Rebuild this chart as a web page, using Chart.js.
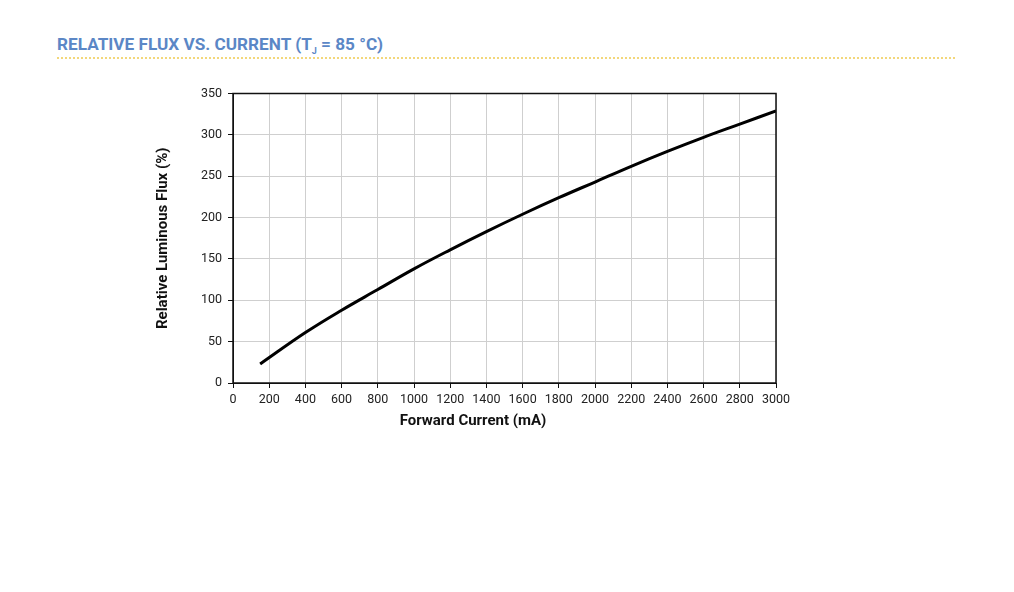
<!DOCTYPE html>
<html>
<head>
<meta charset="utf-8">
<script src="https://cdn.jsdelivr.net/npm/chart.js@4"></script>
<style>
  body { margin:0; background:#fff; font-family:Roboto, sans-serif; }
  #title { position:absolute; left:57px; top:34px; font-size:17.2px; font-weight:bold; color:#5b87c6; white-space:nowrap; }
  #title sub { font-size:9px; }
  #rule { position:absolute; left:57px; top:57px; width:898px; border-top:2px dotted #f3d77a; }
  #box { position:absolute; left:140px; top:80px; width:660px; height:360px; }
</style>
</head>
<body>
<div id="title">RELATIVE FLUX VS. CURRENT (T<sub>J</sub> = 85 °C)</div>
<div id="rule"></div>
<div id="box"><canvas id="fluxChart"></canvas></div>
<script>
// forward current (mA) and relative flux (%)
const current = [150, 400, 600, 800, 1000, 1200, 1400, 1600, 1800, 2000, 2200, 2400, 2600, 2800, 3000]
const flux = [23, 61, 88, 113, 138, 161, 183, 204, 224, 243, 262, 280, 297, 313, 329]
const xTitle = 'Forward Current (mA)'
const yTitle = 'Relative Luminous Flux (%)'

// black frame round the plot + x title (sits left of centre in the original)
const frame = {
  id: 'frame',
  afterDraw(c){
    const a = c.chartArea, ctx = c.ctx
    ctx.save()
    ctx.strokeStyle = '#111'
    ctx.lineWidth = 1.5
    ctx.strokeRect(a.left, a.top, a.right - a.left, a.bottom - a.top)
    ctx.fillStyle = '#111'
    ctx.font = 'bold 15px Roboto'
    ctx.textAlign = 'center'
    ctx.textBaseline = 'middle'
    ctx.fillText(xTitle, a.left + 240, a.bottom + 38)
    ctx.restore()
  }
}

window.addEventListener('load', chart)

function chart(){
  new Chart(document.getElementById('fluxChart'), {
    type: 'line',
    data: {
      datasets: [{
        data: current.map((x, i) => ({x: x, y: flux[i]})),
        borderColor: '#000',
        borderWidth: 3,
        pointRadius: 0,
        tension: 0.4,
        fill: false
      }]
    },
    options: {
      responsive: true,
      maintainAspectRatio: false,
      animation: false,
      layout: { padding: { top: 12, right: 24, left: 0, bottom: 0 } },
      plugins: { legend: { display: false }, tooltip: { enabled: false } },
      scales: {
        x: {
          type: 'linear', min: 0, max: 3000,
          afterFit(s){ s.height = 57 },
          ticks: { stepSize: 200, color: '#222', font: { family: 'Roboto', size: 12.5 }, padding: 4, maxRotation: 0, callback: v => v },
          grid: { color: '#cfcfcf', tickColor: '#111', tickLength: 5 },
          border: { color: '#111' }
        },
        y: {
          min: 0, max: 350,
          afterFit(s){ s.width = 93 },
          ticks: { stepSize: 50, color: '#222', font: { family: 'Roboto', size: 12.5 }, padding: 6, callback: v => v },
          grid: { color: '#cfcfcf', tickColor: '#111', tickLength: 5 },
          border: { color: '#111' },
          title: { display: true, text: yTitle, color: '#111', font: { family: 'Roboto', size: 15, weight: 'bold' }, padding: { top: 14 } }
        }
      }
    },
    plugins: [frame]
  })
}
</script>
</body>
</html>
